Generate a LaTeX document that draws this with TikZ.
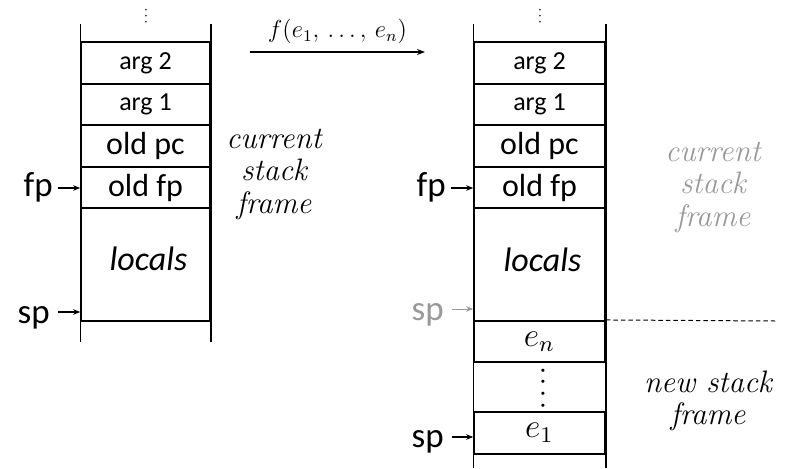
\documentclass[tikz,border=0pt]{standalone}
\usepackage{graphicx}
\usepackage{fontspec}
\setsansfont{Carlito}
\usetikzlibrary{arrows.meta}

% math set at a normal size and enlarged, since the math fonts stop at 24.88pt
\newcommand{\bigmath}[2]{\scalebox{#1}{\fontsize{12}{12}\selectfont$#2$}}

\begin{document}
\begin{tikzpicture}[x=1pt,y=-1pt,
  cell/.style={draw, line width=1.6pt, minimum height=41.5pt, inner sep=0pt},
  cellL/.style={cell, minimum width=129pt},
  cellR/.style={cell, minimum width=131pt},
  argtext/.style={font=\sffamily\fontsize{26}{26}\selectfont},
  oldtext/.style={font=\sffamily\fontsize{32}{32}\selectfont},
  loctext/.style={font=\sffamily\itshape\fontsize{34}{34}\selectfont, inner sep=0pt},
  rail/.style={line width=1.4pt},
  reg/.style={font=\sffamily\fontsize{35}{35}\selectfont, inner sep=0pt, anchor=base east},
  ptr/.style={line width=1.2pt, -{Stealth[length=7pt,width=5.5pt]}},
  faded/.style={black!40},
  note/.style={font=\itshape\fontsize{31}{32.5}\selectfont, align=center, inner sep=0pt},
  topdots/.style={font=\sffamily\fontsize{13}{13}\selectfont, inner sep=0pt, rotate=-90},
  gapdots/.style={font=\sffamily\fontsize{26}{26}\selectfont, inner sep=0pt, rotate=-90},
]
\useasboundingbox (0,0) rectangle (794,468);

% ---------- stack before the call ----------
\node[cellL, argtext] (a2L) at (145.5,63)    {arg 2};
\node[cellL, argtext] (a1L) at (145.5,104.5) {arg 1};
\node[cellL, oldtext] (pcL) at (145.5,146)   {old pc};
\node[cellL, oldtext] (fpL) at (145.5,187.5) {old fp};
\node[cellL, minimum height=113pt] (locL) at (145.5,264.5) {};
\node[loctext] (locLt) at (148.5,258.5) {locals};
\draw[rail] (a2L.north west |- 0,24) -- (a2L.north west |- 0,342);
\draw[rail] (a2L.north east |- 0,24) -- (a2L.north east |- 0,342);
\node[topdots] (dotsL) at (146,16) {.\kern2.5pt.\kern2.5pt.};

\node[reg] (fpregL) at (53,196) {fp};
\node[reg] (spregL) at (50,323) {sp};
\coordinate (fpLa) at (58,188);
\coordinate (spLa) at (58,312);
\draw[ptr] (fpLa) -- (fpLa -| fpL.west);
\draw[ptr] (spLa) -- (spLa -| locL.west);

\node[note] (curL) at (274,174) {current\\stack\\frame};

% ---------- the call ----------
\coordinate (callA) at (250,52);
\coordinate (callB) at (425,52);
\draw[line width=1.3pt, -{Stealth[length=8pt,width=6pt]}] (callA) -- node[above=4pt] (callT) {\bigmath{2.05}{f(e_1,\, \ldots,\, e_n)}} (callB);

% ---------- stack after the call ----------
\node[cellR, argtext] (a2R) at (539.5,63)    {arg 2};
\node[cellR, argtext] (a1R) at (539.5,104.5) {arg 1};
\node[cellR, oldtext] (pcR) at (539.5,146)   {old pc};
\node[cellR, oldtext] (fpR) at (539.5,187.5) {old fp};
\node[cellR, minimum height=113pt] (locR) at (539.5,264.5) {};
\node[loctext] (locRt) at (542.5,260) {locals};
\node[cellR] (enR) at (539.5,341.5) {\bigmath{2.8}{e_n}};
\node[cellR] (e1R) at (539.5,433) {\bigmath{2.8}{e_1}};
\draw[rail] (a2R.north west |- 0,24) -- (a2R.north west |- 0,468);
\draw[rail] (a2R.north east |- 0,24) -- (a2R.north east |- 0,468);
\node[topdots] (dotsR) at (540,16) {.\kern2.5pt.\kern2.5pt.};
\node[gapdots] (dotsGap) at (543,388) {.\kern5pt.\kern5pt.\kern5pt.};

\coordinate (frameEnd) at (775,321);
\draw[line width=1pt, dash pattern=on 4.5pt off 3pt] (enR.north east) -- (frameEnd);

\node[reg] (fpregR) at (446,196) {fp};
\node[reg, faded] (spregR0) at (444,320) {sp};
\node[reg] (spregR) at (444,447) {sp};
\coordinate (fpRa) at (451,188);
\coordinate (spRa0) at (452,309);
\coordinate (spRa) at (452,437);
\draw[ptr] (fpRa) -- (fpRa -| fpR.west);
\draw[ptr, faded, line width=0.9pt] (spRa0) -- (spRa0 -| locR.west);
\draw[ptr] (spRa) -- (spRa -| e1R.west);

\node[note, faded] (curR) at (713,187) {current\\stack\\frame};
\node[note] (newR) at (708,401) {new stack\\frame};
\end{tikzpicture}
\end{document}
